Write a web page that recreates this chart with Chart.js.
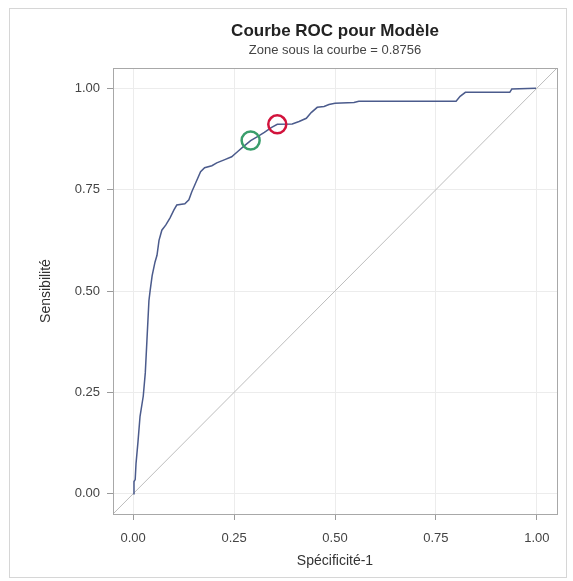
<!DOCTYPE html>
<html>
<head>
<meta charset="utf-8">
<script src="https://cdn.jsdelivr.net/npm/chart.js@4"></script>
<style>
  html, body { margin: 0; padding: 0; background: #fff; }
  #wrap { width: 573px; height: 581px; }
</style>
</head>
<body>
<div id="wrap"><canvas id="roc-chart" width="573" height="581"></canvas></div>
<script>
// 1 - specificity / sensitivity
const fpr = [0, 0.002, 0.005, 0.007, 0.012, 0.017, 0.025, 0.030, 0.034, 0.039, 0.042, 0.047, 0.054, 0.059,
    0.064, 0.071, 0.081, 0.091, 0.101, 0.108, 0.128, 0.138, 0.145, 0.155, 0.167, 0.177, 0.195, 0.207,
    0.227, 0.244, 0.259, 0.273, 0.291, 0.308, 0.325, 0.342, 0.357, 0.394, 0.411, 0.429, 0.441, 0.456,
    0.473, 0.485, 0.500, 0.547, 0.559, 0.800, 0.810, 0.823, 0.933, 0.938, 0.998, 1];
const sens = [0, 0.030, 0.035, 0.074, 0.129, 0.191, 0.241, 0.298, 0.377, 0.476, 0.501, 0.538, 0.571, 0.588,
    0.625, 0.650, 0.663, 0.680, 0.700, 0.712, 0.715, 0.725, 0.744, 0.767, 0.794, 0.804, 0.809, 0.816,
    0.824, 0.831, 0.844, 0.856, 0.871, 0.881, 0.891, 0.903, 0.911, 0.912, 0.918, 0.926, 0.940, 0.953,
    0.955, 0.960, 0.963, 0.965, 0.968, 0.968, 0.980, 0.990, 0.990, 0.998, 1, 1];

const chancePts = [-0.05, 1.05];
const greenCut = { x: 0.291, y: 0.871 };
const redCut = { x: 0.357, y: 0.911 };
const tickValues = [0, 0.25, 0.5, 0.75, 1];

const fontFam = '"Liberation Sans", Arial, sans-serif';

const framePlugin = {
    id: 'frame',
    beforeDraw(chart) {
        const c = chart.ctx;
        c.save();
        c.fillStyle = '#fff';
        c.fillRect(0, 0, chart.width, chart.height);
        c.strokeStyle = '#d6d6d6';
        c.lineWidth = 1;
        c.strokeRect(9.5, 8.5, 557, 569);
        c.restore();
    },
    afterDraw(chart) {
        const a = chart.chartArea;
        const c = chart.ctx;
        c.save();
        c.strokeStyle = '#a8a8a8';
        c.lineWidth = 1;
        c.strokeRect(Math.round(a.left) + 0.5, Math.round(a.top) + 0.5,
            Math.round(a.right - a.left), Math.round(a.bottom - a.top));
        c.restore();
    }
};

const setTicks = function (scale) {
    scale.ticks = tickValues.map(v => ({ value: v }));
};

const ctx = document.getElementById('roc-chart').getContext('2d');
const rocChart = new Chart(ctx, {
    type: 'scatter',
    data: {
        datasets: [{
            data: [greenCut],
            pointRadius: 9,
            pointHoverRadius: 9,
            pointBorderWidth: 2.5,
            pointBorderColor: '#3a9e6c',
            pointBackgroundColor: 'rgba(0,0,0,0)',
            order: 1
        }, {
            data: [redCut],
            pointRadius: 9,
            pointHoverRadius: 9,
            pointBorderWidth: 2.5,
            pointBorderColor: '#d2133c',
            pointBackgroundColor: 'rgba(0,0,0,0)',
            order: 0
        }, {
            data: fpr.map((x, i) => ({ x: x, y: sens[i] })),
            showLine: true,
            borderColor: '#4b5b8c',
            borderWidth: 1.5,
            pointRadius: 0,
            order: 2
        }, {
            data: chancePts.map(v => ({ x: v, y: v })),
            showLine: true,
            borderColor: '#bdbdbd',
            borderWidth: 1,
            pointRadius: 0,
            order: 3
        }]
    },
    options: {
        responsive: false,
        animation: false,
        layout: {
            padding: { left: 10, right: 16, top: 8, bottom: 8 }
        },
        plugins: {
            legend: { display: false },
            tooltip: { enabled: false },
            title: {
                display: true,
                text: 'Courbe ROC pour Modèle',
                fullSize: false,
                color: '#222',
                font: { size: 17, weight: 'bold', family: fontFam },
                padding: { top: 13, bottom: 0 }
            },
            subtitle: {
                display: true,
                text: 'Zone sous la courbe = 0.8756',
                fullSize: false,
                color: '#444',
                font: { size: 13, family: fontFam },
                padding: { top: 1, bottom: 10 }
            }
        },
        scales: {
            x: {
                type: 'linear',
                min: -0.05,
                max: 1.05,
                afterBuildTicks: setTicks,
                afterFit: scale => { scale.height = 59; },
                border: { display: false },
                grid: { color: '#ececec', tickColor: '#9a9a9a', tickLength: 6 },
                ticks: {
                    color: '#444',
                    padding: 11,
                    font: { size: 13, family: fontFam },
                    callback: v => v.toFixed(2)
                },
                title: {
                    display: true,
                    text: 'Spécificité-1',
                    color: '#333',
                    font: { size: 14, family: fontFam },
                    padding: { top: 4, bottom: 3 }
                }
            },
            y: {
                type: 'linear',
                min: -0.05,
                max: 1.05,
                afterBuildTicks: setTicks,
                afterFit: scale => { scale.width = 103; },
                border: { display: false },
                grid: { color: '#ececec', tickColor: '#9a9a9a', tickLength: 6 },
                ticks: {
                    color: '#444',
                    padding: 7,
                    font: { size: 13, family: fontFam },
                    callback: v => v.toFixed(2)
                },
                title: {
                    display: true,
                    text: 'Sensibilité',
                    color: '#333',
                    font: { size: 14, family: fontFam },
                    padding: { top: 28, bottom: 20 }
                }
            }
        }
    },
    plugins: [framePlugin]
});
</script>
</body>
</html>
